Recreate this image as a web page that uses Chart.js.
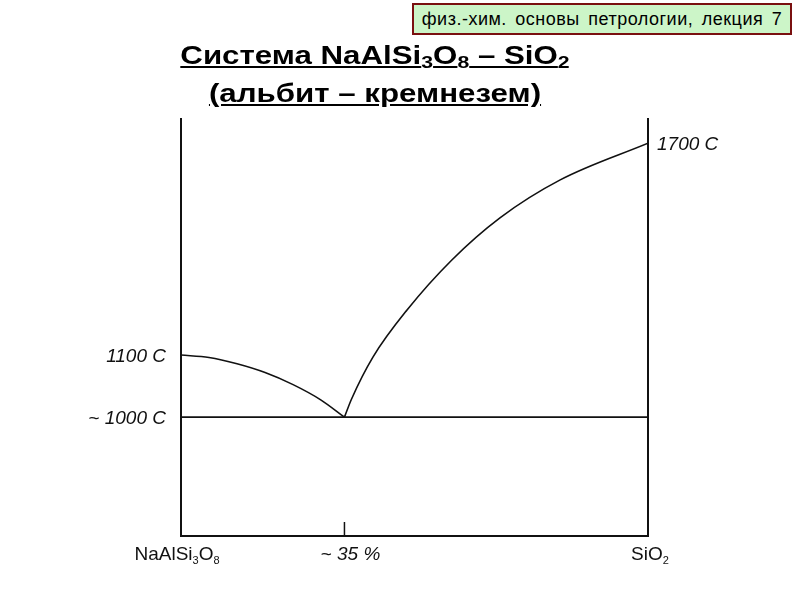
<!DOCTYPE html>
<html>
<head>
<meta charset="utf-8">
<script src="https://cdn.jsdelivr.net/npm/chart.js@4"></script>
<style>
  body { margin: 0; background: #fff; }
  #wrap { position: relative; width: 800px; height: 600px; }
  #phase { position: absolute; left: 0; top: 0; }
  .note {
    position: absolute; left: 412px; top: 3px; width: 376px; height: 28px;
    background: #ccf5c8; border: 2px solid #7a1010;
    font: 18px "Liberation Sans", Arial, sans-serif; word-spacing: 3px; letter-spacing: 0.5px;
    line-height: 28px; text-align: center; color: #000;
  }
  .title {
    position: absolute; left: 0; top: 36px; width: 750px; text-align: center;
    font: bold 25px "Liberation Sans", Arial, sans-serif; line-height: 38px;
    text-decoration: underline; color: #000;
    transform: scaleX(1.25); transform-origin: 375px 0;
  }
  .title sub { font-size: 17px; vertical-align: -4px; line-height: 0; }
</style>
</head>
<body>
<div id="wrap">
  <canvas id="phase" width="800" height="600"></canvas>
  <div class="note">физ.-хим. основы петрологии, лекция 7</div>
  <div class="title">Система NaAlSi<sub>3</sub>O<sub>8</sub> – SiO<sub>2</sub><br>(альбит – кремнезем)</div>
</div>
<script>
// composition in % SiO2, vertical position in relative units (schematic temperature)
const leftLiquidusX = [0, 6, 12, 18, 24, 30, 35];
const leftLiquidusY = [43.4, 42.8, 41.3, 39.2, 36.3, 32.6, 28.5];
const rightLiquidusX = [35, 36.5, 41.1, 48.4, 58.0, 68.3, 81.2, 100];
const rightLiquidusY = [28.5, 32.8, 42.9, 54.2, 66.2, 76.3, 85.4, 94.2];
const solidusX = [0, 100];
const solidusY = [28.5, 28.5];

const tempLabels = ['~ 1000 C', '1100 C', '1700 C'];
const tempLevels = [28.5, 43.4, 94.2];
const tempSides = ['y', 'y', 'y2'];
const compLabels = ['NaAlSi3O8', '~ 35 %', 'SiO2'];
const compValues = [0, 35, 100];

function pts(xs, ys) { return xs.map((x, i) => ({x: x, y: ys[i]})); }

function drawChem(ctx, text, cx, y) {
  const big = '19px "Liberation Sans", Arial, sans-serif';
  const small = '11px "Liberation Sans", Arial, sans-serif';
  const parts = text.split(/(\d+)/).filter(s => s.length);
  let w = 0;
  parts.forEach(p => { ctx.font = /\d/.test(p) ? small : big; w += ctx.measureText(p).width; });
  let x = cx - w / 2;
  ctx.textAlign = 'left';
  ctx.textBaseline = 'alphabetic';
  parts.forEach(p => {
    const sub = /\d/.test(p);
    ctx.font = sub ? small : big;
    ctx.fillText(p, x, sub ? y + 4 : y);
    x += ctx.measureText(p).width;
  });
}

const labelsPlugin = {
  id: 'labels',
  afterDraw(chart) {
    const ctx = chart.ctx, xs = chart.scales.x, area = chart.chartArea;
    ctx.save();
    ctx.fillStyle = '#111';
    ctx.strokeStyle = '#111';
    // eutectic tick
    ctx.lineWidth = 1.5;
    ctx.beginPath();
    ctx.moveTo(xs.getPixelForValue(compValues[1]), area.bottom - 14);
    ctx.lineTo(xs.getPixelForValue(compValues[1]), area.bottom);
    ctx.stroke();
    // temperature labels
    ctx.font = 'italic 19px "Liberation Sans", Arial, sans-serif';
    ctx.textBaseline = 'middle';
    tempLabels.forEach((t, i) => {
      const y = chart.scales[tempSides[i]].getPixelForValue(tempLevels[i]);
      if (tempSides[i] === 'y') { ctx.textAlign = 'right'; ctx.fillText(t, area.left - 15, y + 2); }
      else { ctx.textAlign = 'left'; ctx.fillText(t, area.right + 9, y + 2); }
    });
    // composition labels
    compLabels.forEach((t, i) => {
      const x = xs.getPixelForValue(compValues[i]);
      if (t.indexOf('%') >= 0) {
        ctx.font = 'italic 19px "Liberation Sans", Arial, sans-serif';
        ctx.textAlign = 'center'; ctx.textBaseline = 'alphabetic';
        ctx.fillText(t, x + 6, area.bottom + 24);
      } else {
        drawChem(ctx, t, x - (i === 0 ? 4 : -2), area.bottom + 24);
      }
    });
    ctx.restore();
  }
};

const lineStyle = { borderColor: '#111', borderWidth: 1.6, pointRadius: 0, fill: false, cubicInterpolationMode: 'monotone' };

new Chart(document.getElementById('phase'), {
  type: 'line',
  data: {
    datasets: [
      Object.assign({}, lineStyle, { data: pts(solidusX, solidusY), cubicInterpolationMode: 'default', tension: 0 }),
      Object.assign({}, lineStyle, { data: pts(leftLiquidusX, leftLiquidusY) }),
      Object.assign({}, lineStyle, { data: pts(rightLiquidusX, rightLiquidusY) })
    ]
  },
  options: {
    responsive: false,
    animation: false,
    events: [],
    layout: { padding: { left: 173, right: 144, top: 119, bottom: 56 } },
    plugins: { legend: { display: false }, tooltip: { enabled: false } },
    scales: {
      x: {
        type: 'linear', min: 0, max: 100,
        grid: { display: false },
        border: { display: true, color: '#111', width: 2 },
        ticks: { display: false }
      },
      y: {
        type: 'linear', min: 0, max: 100, position: 'left',
        grid: { display: false },
        border: { display: true, color: '#111', width: 2 },
        ticks: { display: false }
      },
      y2: {
        type: 'linear', min: 0, max: 100, position: 'right',
        grid: { display: false },
        border: { display: true, color: '#111', width: 2 },
        ticks: { display: false }
      }
    }
  },
  plugins: [labelsPlugin]
});
</script>
</body>
</html>
